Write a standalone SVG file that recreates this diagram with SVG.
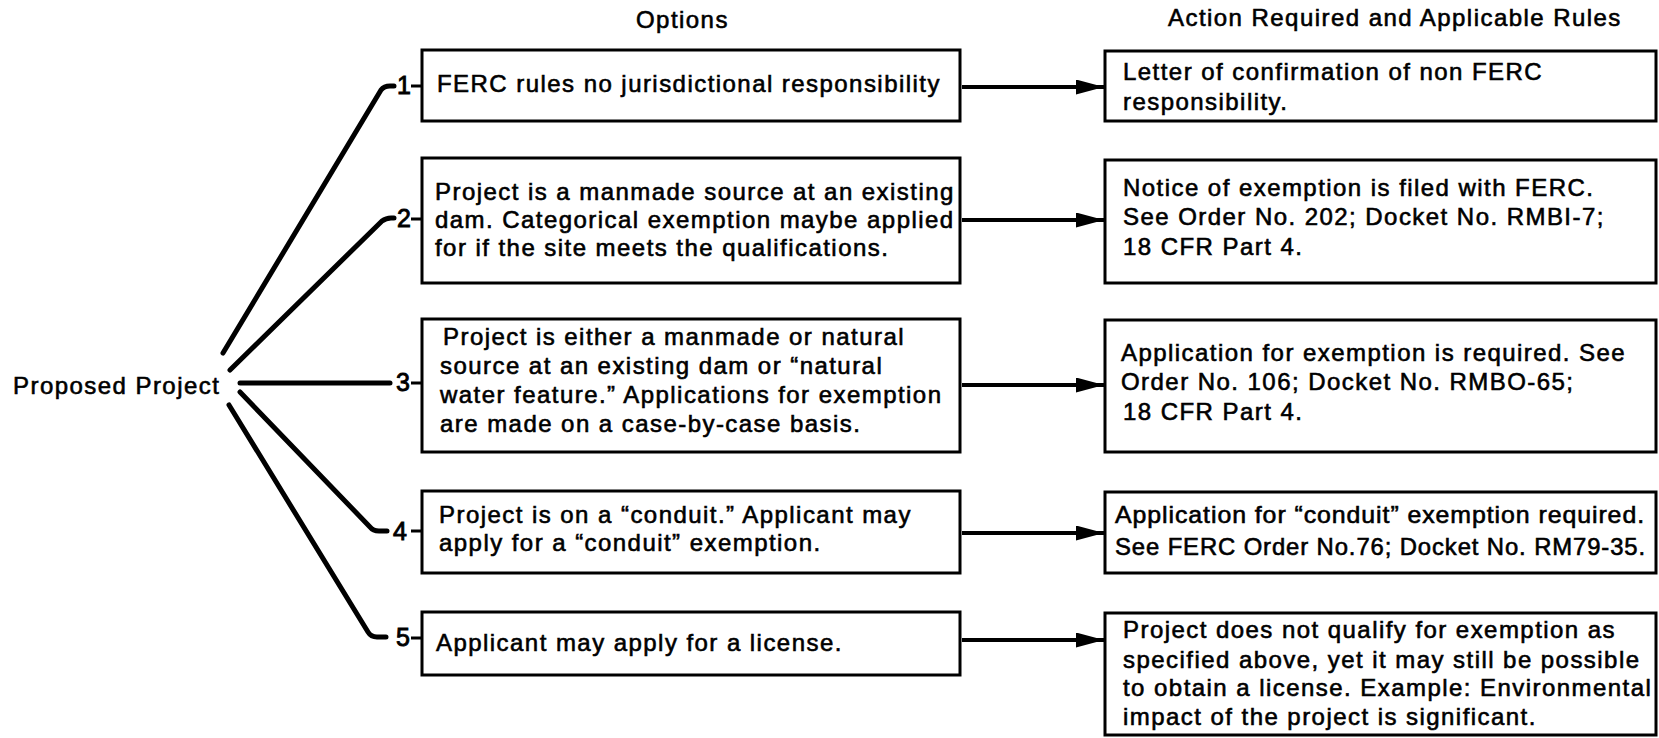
<svg xmlns="http://www.w3.org/2000/svg" width="1659" height="738" viewBox="0 0 1659 738">
<style>
text{font-family:"Liberation Sans",Arial,sans-serif;font-size:24px;letter-spacing:1.45px;fill:#000;stroke:#000;stroke-width:0.6px}
.num{font-size:25px;stroke-width:0.9px;letter-spacing:0}
.tight{letter-spacing:0.9px}
.box{fill:#fff;stroke:#000;stroke-width:3}
.fan{fill:none;stroke:#000;stroke-width:5;stroke-linecap:round;stroke-linejoin:round}
.tick{fill:none;stroke:#000;stroke-width:3}
.arr{fill:none;stroke:#000;stroke-width:4;marker-end:url(#ah)}
</style>
<defs>
<marker id="ah" markerUnits="userSpaceOnUse" markerWidth="30" markerHeight="16" refX="28" refY="7.5" orient="auto">
<path d="M0,0 L28,7.5 L0,15 Z" fill="#000"/>
</marker>
</defs>
<rect width="1659" height="738" fill="#fff"/>
<g id="headers">
<text x="636" y="28">Options</text>
<text x="1168" y="26">Action Required and Applicable Rules</text>
</g>
<g id="root"><text x="13" y="394">Proposed Project</text></g>
<g id="connectors">
<path class="fan" d="M223,353 L381,90 Q384,86 390,86 L394,86"/>
<path class="fan" d="M230,370 L382,221 Q386,218 391,218 L394,218"/>
<path class="fan" d="M240,383 L390,383"/>
<path class="fan" d="M240,392 L370,527 Q373,531 379,531 L387,531"/>
<path class="fan" d="M229,405 L368,632 Q371,637 377,637 L386,637"/>
<path class="tick" d="M411,86 H423 M411,219 H423 M411,383 H423 M411,531 H423 M411,638 H423"/>
<path class="arr" d="M962,87 H1104"/>
<path class="arr" d="M962,220 H1104"/>
<path class="arr" d="M962,385 H1104"/>
<path class="arr" d="M962,533 H1104"/>
<path class="arr" d="M962,640 H1104"/>
</g>
<g id="nums">
<text class="num" x="397" y="94">1</text>
<text class="num" x="397" y="227">2</text>
<text class="num" x="396" y="391">3</text>
<text class="num" x="393" y="540">4</text>
<text class="num" x="396" y="646">5</text>
</g>
<g id="opt1"><rect class="box" x="422" y="50" width="538" height="71"/>
<text x="437" y="92">FERC rules no jurisdictional responsibility</text></g>
<g id="opt2"><rect class="box" x="422" y="158" width="538" height="125"/>
<text x="435" y="200">Project is a manmade source at an existing</text>
<text x="435" y="228">dam. Categorical exemption maybe applied</text>
<text x="435" y="256">for if the site meets the qualifications.</text></g>
<g id="opt3"><rect class="box" x="422" y="319" width="538" height="133"/>
<text x="443" y="345">Project is either a manmade or natural</text>
<text x="440" y="374">source at an existing dam or “natural</text>
<text x="440" y="403">water feature.” Applications for exemption</text>
<text x="440" y="432">are made on a case-by-case basis.</text></g>
<g id="opt4"><rect class="box" x="422" y="491" width="538" height="82"/>
<text x="439" y="523">Project is on a “conduit.” Applicant may</text>
<text x="439" y="551">apply for a “conduit” exemption.</text></g>
<g id="opt5"><rect class="box" x="422" y="612" width="538" height="63"/>
<text x="436" y="651">Applicant may apply for a license.</text></g>
<g id="act1"><rect class="box" x="1105" y="51" width="551" height="70"/>
<text x="1123" y="80">Letter of confirmation of non FERC</text>
<text x="1123" y="110">responsibility.</text></g>
<g id="act2"><rect class="box" x="1105" y="160" width="551" height="123"/>
<text x="1123" y="196">Notice of exemption is filed with FERC.</text>
<text x="1123" y="225">See Order No. 202; Docket No. RMBI-7;</text>
<text x="1123" y="255">18 CFR Part 4.</text></g>
<g id="act3"><rect class="box" x="1105" y="320" width="551" height="132"/>
<text x="1121" y="361">Application for exemption is required. See</text>
<text x="1121" y="390">Order No. 106; Docket No. RMBO-65;</text>
<text x="1123" y="420">18 CFR Part 4.</text></g>
<g id="act4"><rect class="box" x="1105" y="492" width="551" height="81"/>
<text class="tight" x="1115" y="523" textLength="530" lengthAdjust="spacingAndGlyphs">Application for “conduit” exemption required.</text>
<text class="tight" x="1115" y="555" textLength="531" lengthAdjust="spacingAndGlyphs">See FERC Order No.76; Docket No. RM79-35.</text></g>
<g id="act5"><rect class="box" x="1105" y="613" width="551" height="122"/>
<text x="1123" y="638">Project does not qualify for exemption as</text>
<text x="1123" y="668">specified above, yet it may still be possible</text>
<text x="1123" y="696">to obtain a license. Example: Environmental</text>
<text x="1123" y="725">impact of the project is significant.</text></g>
</svg>
